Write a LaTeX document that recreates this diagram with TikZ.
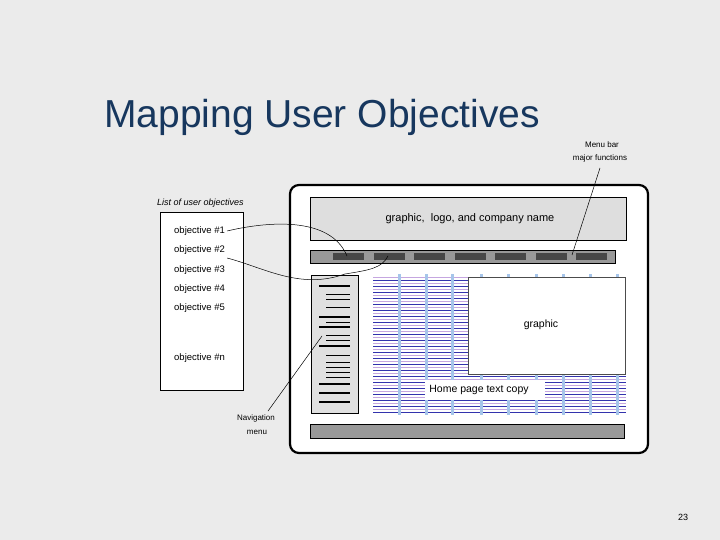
\documentclass[tikz,border=0pt]{standalone}
\usepackage{fontspec}
\setmainfont{Liberation Sans}
\definecolor{titleblue}{RGB}{23,55,94}
\begin{document}
\begin{tikzpicture}[x=1pt,y=-1pt,
  lbl/.style={font=\fontsize{9.5}{11}\selectfont,inner sep=0pt},
  obj/.style={lbl,anchor=west},
  sml/.style={lbl,font=\fontsize{8}{9}\selectfont},
  bar/.style={fill=black!40,draw=black,line width=0.6pt},
  nav/.style={line width=0.6pt},
  navt/.style={line width=1.3pt},
  conn/.style={line width=0.5pt}]
\fill[black!8] (0,0) rectangle (720,540);
\useasboundingbox (0,0) rectangle (720,540);
\node[anchor=base west,inner sep=0pt,text=titleblue,font=\fontsize{39}{42}\selectfont] (title) at (104,128) {Mapping User Objectives};
% objectives list
\node[lbl,anchor=west,font=\fontsize{9}{10}\selectfont\itshape] (listlbl) at (157,203) {List of user objectives};
\draw[fill=white,line width=0.6pt] (160,212) rectangle (243,390);
\node[obj] (o1) at (174,231) {objective \#1};
\node[obj] (o2) at (174,250) {objective \#2};
\node[obj] (o3) at (174,270) {objective \#3};
\node[obj] (o4) at (174,289) {objective \#4};
\node[obj] (o5) at (174,308) {objective \#5};
\node[obj] (on) at (174,358) {objective \#n};
% browser frame
\draw[fill=white,line width=2.2pt,rounded corners=9pt] (290,185) rectangle (648,453);
\draw[fill=black!13,line width=0.6pt] (310,197) rectangle (626,240);
\node[lbl,font=\fontsize{11}{12}\selectfont] (hdr) at (470,219) {graphic,\ \ logo, and company name};
\draw[bar] (310,250) rectangle (615,263);
\foreach \i in {0,...,6} \fill[black!72] ({333+40.5*\i},253) rectangle ({364+40.5*\i},260);
\coordinate (s1) at (347,256);
\coordinate (s2) at (388,256);
\coordinate (s7) at (572,255);
% nav
\draw[fill=black!12,line width=0.6pt] (311,275) rectangle (358,413);
\foreach \y in {286,317,327,346,384,393,402} \draw[navt] (319,\y) -- (350,\y);
\foreach \y in {294,299,307,322,335,340,355,362,367,372,377} \draw[nav] (326,\y) -- (350,\y);
% content stripes
\foreach \k in {0,...,45} {
  \pgfmathsetmacro{\yy}{277+3*\k}
  \ifodd\k \draw[blue!60!black!80,line width=0.7pt] (373,\yy) -- (626,\yy);
  \else \draw[blue!30!violet!35,line width=0.9pt] (373,\yy) -- (626,\yy); \fi
}
\foreach \x in {399,426,452,481,508,536,563,590,617} \fill[cyan!60!blue!35] (\x-1.5,274) rectangle (\x+1.5,415);
\draw[fill=white,draw=black!70,line width=0.4pt] (468,277) rectangle (625,374);
\node[lbl,font=\fontsize{10.5}{12}\selectfont] (gr) at (541,325) {graphic};
\fill[white] (425,380) rectangle (545,400);
\node[lbl,font=\fontsize{10.5}{12}\selectfont] (copy) at (479,390) {Home page text copy};
\draw[bar] (310,424) rectangle (624,438);
% labels
\node[sml] (mb1) at (602,145) {Menu bar};
\node[sml] (mb2) at (600,158) {major functions};
\node[sml] (nv1) at (256,418) {Navigation};
\node[sml] (nv2) at (257,432) {menu};
\coordinate (nvp) at (322,336);
\draw[conn] (mb2.south) ++(0,6) -- (s7);
\draw[conn] (nv1.north) ++(12,-3) -- (nvp);
\draw[conn] (o1.east) ++(2,0) .. controls (265,222) and (330,215) .. (s1);
\draw[conn] (o2.east) ++(2,8) .. controls (265,268) and (300,290) .. (345,274) .. controls (370,270) and (382,268) .. (s2);
\node[sml,font=\fontsize{9}{10}\selectfont] (pg) at (683,517) {23};
\end{tikzpicture}
\end{document}
